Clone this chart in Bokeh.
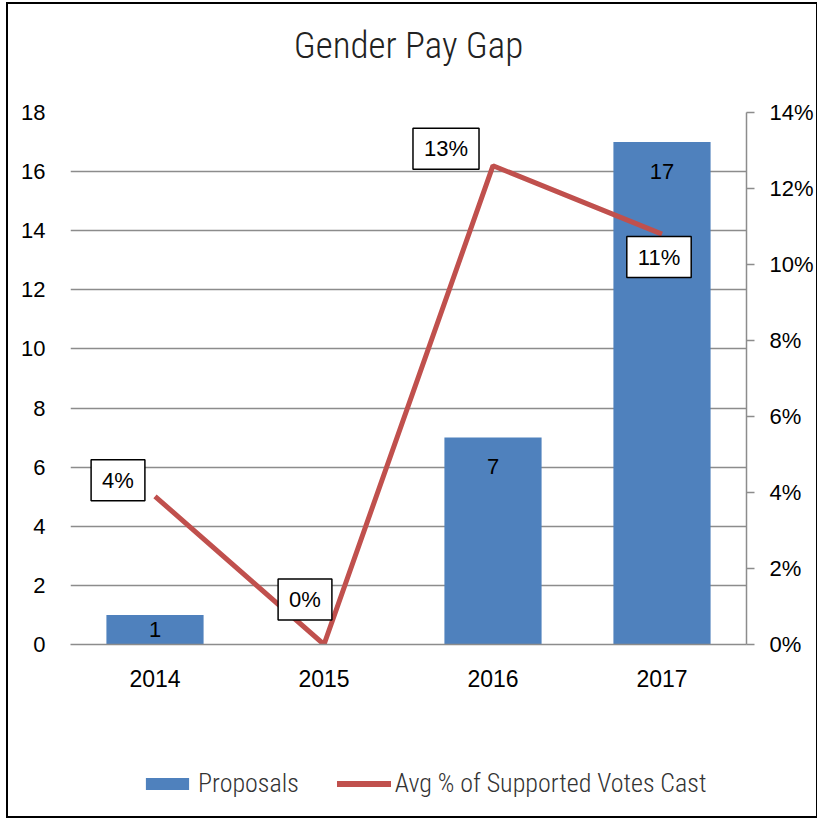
from bokeh.plotting import figure
from bokeh.layouts import column
from bokeh.models import (Range1d, LinearAxis, NumeralTickFormatter, FixedTicker,
                          Legend, LegendItem, ColumnDataSource, FactorRange, Title)
from bokeh.core.properties import value
from bokeh.embed import file_html
from bokeh.resources import INLINE

years = ["2014", "2015", "2016", "2017"]
proposals = [1, 0, 7, 17]
avg_support = [0.039, 0.0, 0.126, 0.108]
pct_labels = ["4%", "0%", "13%", "11%"]
bar_labels = ["1", "", "7", "17"]
left_ticks = [0, 2, 4, 6, 8, 10, 12, 14, 16, 18]
right_ticks = [0, 0.02, 0.04, 0.06, 0.08, 0.10, 0.12, 0.14]
series_names = ["Proposals", "Avg % of Supported Votes Cast"]

BLUE = "#4F81BD"
RED = "#C0504D"
GRID = "#8C8C8C"
FRAME_H = 532
YMAX = 18
NARROW = "Roboto Condensed Light, Roboto Condensed, DejaVu Sans Condensed, Roboto"
BODY = "Liberation Sans"

p = figure(x_range=FactorRange(factors=years), y_range=Range1d(0, YMAX),
           frame_width=676, frame_height=FRAME_H,
           min_border_left=62, min_border_right=68, min_border_top=108, min_border_bottom=60,
           output_backend="svg", toolbar_location=None)
p.outline_line_color = None
p.background_fill_color = "white"

p.title.text = "Gender Pay Gap"
p.title.align = "center"
p.title.text_font = NARROW
p.title.text_font_size = "37px"
p.title.text_font_style = "normal"
p.title.text_color = "#222222"
p.title.standoff = 0
p.title.vertical_align = "middle"
# spacer between title and plot area
p.add_layout(Title(text=" ", text_font_size="20px", standoff=21), "above")

p.extra_y_ranges = {"pct": Range1d(0, 0.14)}

# bars
src = ColumnDataSource(dict(x=years, top=proposals, lab=bar_labels,
                            off=[min(29, v * FRAME_H / YMAX / 2) for v in proposals]))
bars = p.vbar(x="x", top="top", width=0.575, source=src, fill_color=BLUE, line_color=None)
p.text(x="x", y="top", text="lab", y_offset="off", source=src, text_align="center",
       text_baseline="middle", text_font=value(BODY), text_font_size="22px",
       text_color="black")

# line
line = p.line(x=years, y=avg_support, y_range_name="pct", line_width=5, line_color=RED)
lsrc = ColumnDataSource(dict(x=years, y=avg_support, lab=pct_labels,
                             dx=[-37, -19, -47, -3], dy=[-16, -45, -17, 23]))
p.text(x="x", y="y", text="lab", x_offset="dx", y_offset="dy", source=lsrc,
       y_range_name="pct", text_align="center", text_baseline="middle",
       text_font=value(BODY), text_font_size="22px", text_color="black",
       background_fill_color="white", border_line_color="black", border_line_width=1.5,
       padding=(11, 8))

# left axis
ya = p.yaxis[0]
ya.ticker = FixedTicker(ticks=left_ticks)
ya.axis_line_color = None
ya.major_tick_line_color = None
ya.minor_tick_line_color = None
ya.major_tick_out = 0
ya.major_label_standoff = 25
ya.major_label_text_font = BODY
ya.major_label_text_font_size = "22px"
ya.major_label_text_color = "black"

# right axis
ra = LinearAxis(y_range_name="pct", ticker=FixedTicker(ticks=right_ticks),
                formatter=NumeralTickFormatter(format="0%"))
ra.axis_line_color = GRID
ra.axis_line_width = 1.5
ra.major_tick_line_color = GRID
ra.major_tick_line_width = 1.5
ra.major_tick_out = 8
ra.major_tick_in = 0
ra.minor_tick_line_color = None
ra.major_label_standoff = 15
ra.major_label_text_font = BODY
ra.major_label_text_font_size = "22px"
ra.major_label_text_color = "black"
p.add_layout(ra, "right")

# x axis
xa = p.xaxis[0]
xa.axis_line_color = GRID
xa.axis_line_width = 1.5
xa.major_tick_line_color = None
xa.major_tick_out = 0
xa.major_label_standoff = 25
xa.major_label_text_font = BODY
xa.major_label_text_font_size = "23px"
xa.major_label_text_color = "black"

p.xgrid.grid_line_color = None
p.ygrid.grid_line_color = GRID
p.ygrid.grid_line_width = 1.5
p.ygrid.ticker = FixedTicker(ticks=left_ticks)

# legend strip below the chart (its frame lines up with the chart's frame)
leg = figure(width=806, height=112, x_range=Range1d(0, 1), y_range=Range1d(0, 1),
             x_axis_type=None, y_axis_type=None, min_border=0,
             output_backend="svg", toolbar_location=None)
leg.outline_line_color = None
leg.grid.grid_line_color = None
# swatch carriers: a zero-height bar and a single-point line draw nothing themselves
lb = leg.vbar(x=[0.5], bottom=[0], top=[0], width=0.5, fill_color=BLUE, line_color=None)
ll = leg.line(x=[0.5], y=[0.5], line_width=6, line_color=RED, line_cap="round")
legend = Legend(items=[LegendItem(label=series_names[0], renderers=[lb]),
                       LegendItem(label=series_names[1], renderers=[ll])],
                orientation="horizontal", location=(70, 18))
legend.glyph_width = 54
legend.glyph_height = 15
legend.label_standoff = 4
legend.spacing = 38
legend.padding = 0
legend.margin = 0
legend.border_line_color = None
legend.background_fill_alpha = 0
legend.label_text_font = NARROW
legend.label_text_font_size = "26px"
legend.label_text_color = "#333333"
leg.add_layout(legend, "center")

layout = column(p, leg, spacing=0)
layout.styles = {"border": "2px solid black", "margin-left": "6px", "margin-top": "2px"}

open("out.html", "w").write(file_html(layout, INLINE))
